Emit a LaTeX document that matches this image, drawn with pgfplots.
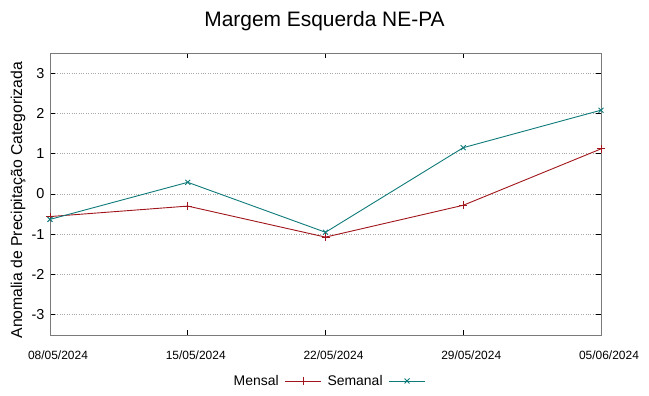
\documentclass[border=0pt]{standalone}
\usepackage{fontspec}
\setmainfont{Liberation Sans}
\usepackage{pgfplots}
\pgfplotsset{compat=1.18}
\definecolor{mensal}{HTML}{A0161C}
\definecolor{semanal}{HTML}{0F7A7A}
\definecolor{border}{HTML}{7A7A7A}
\definecolor{gridc}{HTML}{A8A8A8}
\begin{document}
\begin{tikzpicture}
\path[use as bounding box] (0,0) rectangle (649bp,396bp);
\node[font=\fontsize{21}{24}\selectfont] at (324.5bp,375bp) {Margem Esquerda NE-PA};
\begin{axis}[
  at={(50bp,61bp)}, anchor=south west,
  scale only axis, width=551bp, height=282bp,
  xmin=0, xmax=4, ymin=-3.5, ymax=3.5,
  xtick={0,1,2,3,4},
  xticklabels={08/05/2024,15/05/2024,22/05/2024,29/05/2024,05/06/2024},
  ytick={-3,-2,-1,0,1,2,3},
  yticklabels={-3,-2,-1,0,1,2,3},
  x tick label style={font=\fontsize{12}{14}\selectfont, yshift=-12bp, xshift=8bp},
  y tick label style={font=\fontsize{14.5}{16}\selectfont, xshift=-2bp},
  tick align=inside, major tick length=5bp,
  tick style={black, line width=0.8bp},
  axis line style={border, line width=1bp},
  ymajorgrids, grid style={gridc, dotted, line width=0.8bp},
  ylabel={Anomalia de Precipitação Categorizada},
  every axis y label/.style={at={(axis description cs:0,0.478)}, xshift=-32bp, rotate=90, anchor=center, font=\fontsize{15.8}{18}\selectfont},
  legend columns=2,
  legend plot pos=right,
  legend style={at={(0.502,-0.163)}, anchor=center, draw=none, fill=none,
    font=\fontsize{14}{16}\selectfont,
    nodes={inner xsep=6bp},
    /tikz/every even column/.append style={column sep=0bp}},
  legend image code/.code={\draw[mark repeat=2, mark phase=2] plot coordinates {(0bp,0bp) (18bp,0bp) (36bp,0bp)};},
  clip=false,
]
\addplot[mensal, line width=0.9bp, mark=+, mark size=4bp] coordinates {
  (0,-0.56) (1,-0.30) (2,-1.07) (3,-0.28) (4,1.12)
};
\addlegendentry{Mensal}
\addplot[semanal, line width=0.9bp, mark=x, mark size=3.5bp] coordinates {
  (0,-0.63) (1,0.29) (2,-0.95) (3,1.15) (4,2.08)
};
\addlegendentry{Semanal}
\end{axis}
\end{tikzpicture}
\end{document}
